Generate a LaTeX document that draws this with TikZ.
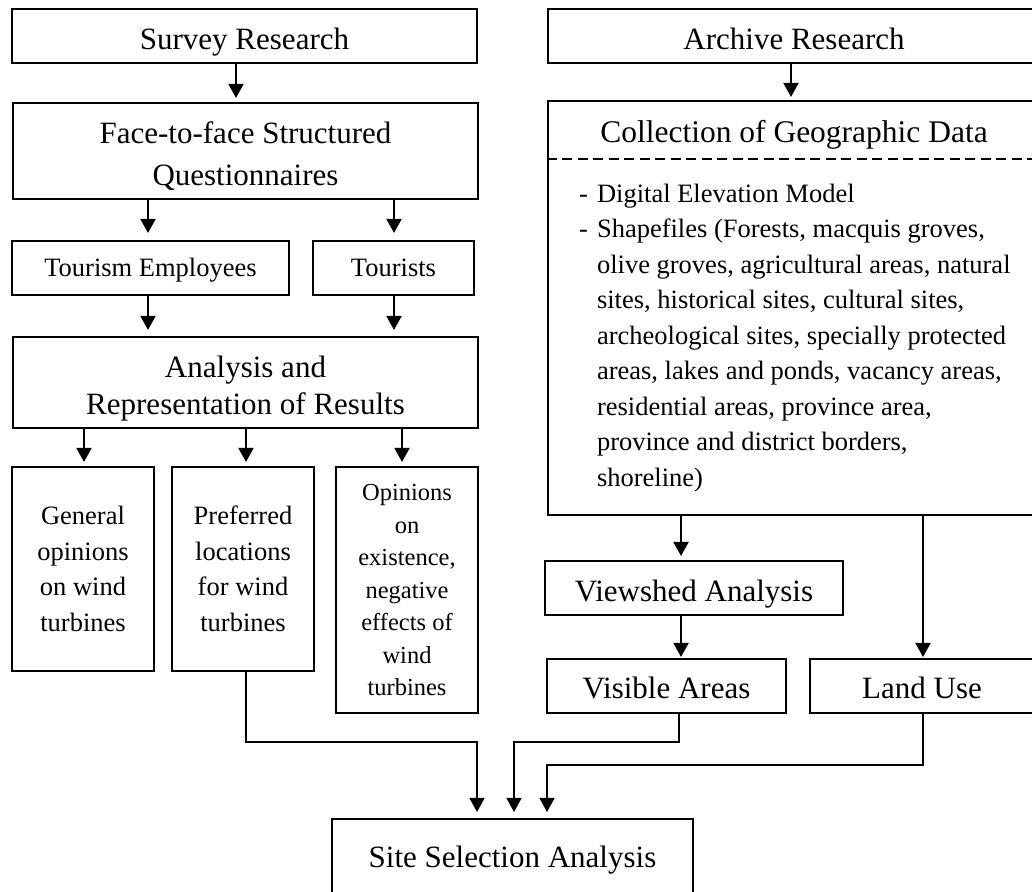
\documentclass[tikz,border=0pt]{standalone}
\usepackage{fontspec}
\setmainfont{Liberation Serif}
\usetikzlibrary{arrows.meta}

\newcommand{\bigfont}{\fontsize{31}{36.5}\selectfont}
\newcommand{\midfont}{\fontsize{26.5}{35.5}\selectfont}
\newcommand{\smallfont}{\fontsize{24.5}{32.5}\selectfont}

\tikzset{
  box/.style={draw, line width=2.1pt, inner sep=0pt, align=center},
  oneline/.style={text height=#1, text depth=0pt},
  arr/.style={-{Triangle[width=15pt,length=14pt]}, line width=2pt, shorten >=4pt},
  elbow/.style={-{Triangle[width=15pt,length=14pt]}, line width=1.5pt, shorten >=6pt},
  divider/.style={line width=1.3pt, dash pattern=on 10pt off 5.5pt}
}

\begin{document}
\begin{tikzpicture}[x=1pt, y=-1pt]
\useasboundingbox (0,0) rectangle (1032,891);
\clip (0,0) rectangle (1032,891);

% ---- survey branch ----
\node[box, oneline=26pt, minimum width=465pt, minimum height=54pt, font=\bigfont] (survey) at (244.5,36) {Survey Research};
\node[box, minimum width=465pt, minimum height=96pt, font=\fontsize{31}{42}\selectfont] (face) at (245.5,151) {\rule{0pt}{32pt}Face-to-face Structured\\Questionnaires};
\node[box, oneline=16pt, minimum width=277pt, minimum height=54pt, font=\midfont] (employees) at (150.5,268) {Tourism Employees};
\node[box, oneline=16pt, minimum width=161pt, minimum height=54pt, font=\midfont] (tourists) at (393.5,268) {Tourists};
\node[box, minimum width=465pt, minimum height=91pt, font=\bigfont] (results) at (245.5,382.5) {\rule{0pt}{34pt}Analysis and\\Representation of Results};
\node[box, minimum width=142pt, minimum height=204pt, font=\midfont] (general) at (83,569) {General\\opinions\\on wind\\turbines};
\node[box, minimum width=142pt, minimum height=204pt, font=\midfont] (preferred) at (243,569) {Preferred\\locations\\for wind\\turbines};
\node[box, minimum width=142pt, minimum height=246pt, font=\smallfont] (opinions) at (407,590) {Opinions\\on\\existence,\\negative\\effects of\\wind\\turbines};

% ---- archive branch ----
\node[box, oneline=27pt, minimum width=492pt, minimum height=54pt, font=\bigfont] (archive) at (794,36) {Archive Research};
\node[box, minimum width=492pt, minimum height=414pt] (collect) at (794,308) {};
\node[anchor=base, inner sep=0pt, font=\fontsize{31.5}{36}\selectfont] (collecthead) at (794,142) {Collection of Geographic Data};
\coordinate (divy) at (0,159);
\draw[divider] (collect.west |- divy) -- (collect.east |- divy);
\node[anchor=base west, inner sep=0pt, font=\midfont] (datalist) at (579,202) {%
  \begin{tabular}[t]{@{}l@{\hspace{9pt}}l@{}}
  - & Digital Elevation Model\\
  - & Shapefiles (Forests, macquis groves,\\
    & olive groves, agricultural areas, natural\\
    & sites, historical sites, cultural sites,\\
    & archeological sites, specially protected\\
    & areas, lakes and ponds, vacancy areas,\\
    & residential areas, province area,\\
    & province and district borders,\\
    & shoreline)
  \end{tabular}};
\node[box, oneline=26pt, minimum width=298pt, minimum height=54pt, font=\bigfont] (viewshed) at (694,588) {Viewshed Analysis};
\node[box, oneline=24pt, minimum width=239pt, minimum height=54pt, font=\bigfont] (visible) at (666.5,686) {Visible Areas};
\node[box, oneline=24pt, minimum width=224pt, minimum height=54pt, font=\bigfont] (landuse) at (922,686) {Land Use};

% ---- common target ----
\node[box, oneline=18pt, minimum width=361pt, minimum height=78pt, font=\bigfont] (site) at (512.5,858) {Site Selection Analysis};

% ---- vertical connectors ----
\coordinate (c1) at (236,0);
\coordinate (c2) at (148,0);
\coordinate (c3) at (394,0);
\coordinate (c4) at (84,0);
\coordinate (c5) at (246,0);
\coordinate (c6) at (402,0);
\coordinate (c7) at (791,0);
\coordinate (c8) at (681,0);
\coordinate (c9) at (923,0);
\draw[arr] (survey.south -| c1) -- (face.north -| c1);
\draw[arr, shorten >=7pt] (face.south -| c2) -- (employees.north -| c2);
\draw[arr, shorten >=7pt] (face.south -| c3) -- (tourists.north -| c3);
\draw[arr, shorten >=6pt] (employees.south -| c2) -- (results.north -| c2);
\draw[arr, shorten >=6pt] (tourists.south -| c3) -- (results.north -| c3);
\draw[arr] (results.south -| c4) -- (general.north -| c4);
\draw[arr] (results.south -| c5) -- (preferred.north -| c5);
\draw[arr] (results.south -| c6) -- (opinions.north -| c6);
\draw[arr, shorten >=3pt] (archive.south -| c7) -- (collect.north -| c7);
\draw[arr] (collect.south -| c8) -- (viewshed.north -| c8);
\draw[arr, shorten >=1pt] (collect.south -| c9) -- (landuse.north -| c9);
\draw[arr, shorten >=1pt] (viewshed.south -| c8) -- (visible.north -| c8);

% ---- elbow connectors into the site selection box ----
\coordinate (pA) at (246,742);
\coordinate (pB) at (477,742);
\coordinate (vA) at (679,742);
\coordinate (vB) at (514,742);
\coordinate (lA) at (923,765);
\coordinate (lB) at (547,765);
\draw[elbow] (preferred.south -| pA) -- (pA) -- (pB) -- (site.north -| pB);
\draw[elbow] (visible.south -| vA) -- (vA) -- (vB) -- (site.north -| vB);
\draw[elbow] (landuse.south -| lA) -- (lA) -- (lB) -- (site.north -| lB);
\end{tikzpicture}
\end{document}
